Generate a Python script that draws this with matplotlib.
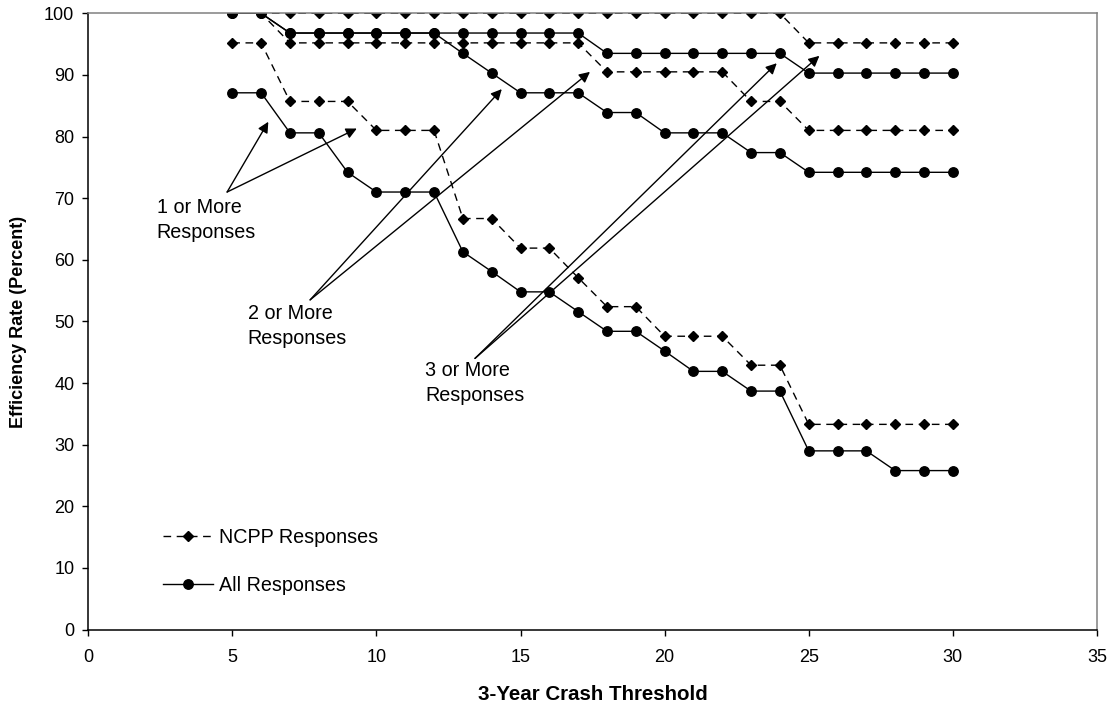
import matplotlib
matplotlib.use("Agg")
import matplotlib.pyplot as plt

plt.rcParams['font.family'] = ['Liberation Sans', 'DejaVu Sans']

# 3-year crash threshold
threshold = list(range(5, 31))

# NCPP responses (dashed, diamonds)
ncpp_1 = [95.2, 95.2, 85.7, 85.7, 85.7, 81.0, 81.0, 81.0, 66.7, 66.7, 61.9, 61.9, 57.1,
          52.4, 52.4, 47.6, 47.6, 47.6, 42.9, 42.9, 33.3, 33.3, 33.3, 33.3, 33.3, 33.3]
ncpp_2 = [100.0, 100.0, 95.2, 95.2, 95.2, 95.2, 95.2, 95.2, 95.2, 95.2, 95.2, 95.2, 95.2,
          90.5, 90.5, 90.5, 90.5, 90.5, 85.7, 85.7, 81.0, 81.0, 81.0, 81.0, 81.0, 81.0]
ncpp_3 = [100.0] * 20 + [95.2] * 6

# All responses (solid, circles)
all_1 = [87.1, 87.1, 80.6, 80.6, 74.2, 71.0, 71.0, 71.0, 61.3, 58.1, 54.8, 54.8, 51.6,
         48.4, 48.4, 45.2, 41.9, 41.9, 38.7, 38.7, 29.0, 29.0, 29.0, 25.8, 25.8, 25.8]
all_2 = [100.0, 100.0, 96.8, 96.8, 96.8, 96.8, 96.8, 96.8, 93.5, 90.3, 87.1, 87.1, 87.1,
         83.9, 83.9, 80.6, 80.6, 80.6, 77.4, 77.4, 74.2, 74.2, 74.2, 74.2, 74.2, 74.2]
all_3 = [100.0, 100.0] + [96.8] * 11 + [93.5] * 7 + [90.3] * 6

fig = plt.figure(figsize=(11.15, 7.04), dpi=100)
ax = fig.add_axes([0.0791, 0.1057, 0.9047, 0.8754])

dash_kw = dict(color='black', lw=1, dashes=(5.5, 4), marker='D', ms=4.8)
solid_kw = dict(color='black', lw=1, marker='o', ms=6.8)

ax.plot(threshold, ncpp_1, label='NCPP Responses', **dash_kw)
ax.plot(threshold, ncpp_2, **dash_kw)
ax.plot(threshold, ncpp_3, **dash_kw)
ax.plot(threshold, all_1, label='All Responses', **solid_kw)
ax.plot(threshold, all_2, **solid_kw)
ax.plot(threshold, all_3, **solid_kw)

ax.set_xlim(0, 35)
ax.set_ylim(0, 100)
ax.set_xticks(range(0, 36, 5))
ax.set_yticks(range(0, 101, 10))
ax.tick_params(axis='both', direction='out', length=4, width=1, labelsize=13)
ax.tick_params(axis='y', pad=6)
ax.tick_params(axis='x', pad=10)

for s in ['left', 'bottom']:
    ax.spines[s].set_color('black')
    ax.spines[s].set_linewidth(1.1)
for s in ['top', 'right']:
    ax.spines[s].set_color('#808080')
    ax.spines[s].set_linewidth(1.1)

ax.set_xlabel('3-Year Crash Threshold', fontsize=14.8, fontweight='bold', labelpad=14)
ax.set_ylabel('Efficiency Rate (Percent)', fontsize=13, fontweight='bold', labelpad=12)

# annotations with arrows
arrow = dict(arrowstyle='-|>', color='black', lw=1, mutation_scale=16, shrinkA=0, shrinkB=0)
notes = [
    ('1 or More\nResponses', (2.38, 70.1), (4.82, 71.0), [(6.25, 82.4), (9.32, 81.3)]),
    ('2 or More\nResponses', (5.54, 52.9), (7.70, 53.5), [(14.35, 87.7), (17.41, 90.5)]),
    ('3 or More\nResponses', (11.69, 43.6), (13.42, 44.0), [(23.89, 91.9), (25.37, 93.1)]),
]
for txt, pos, tail, heads in notes:
    ax.text(pos[0], pos[1], txt, fontsize=14.2, ha='left', va='top', linespacing=1.4)
    for h in heads:
        ax.annotate('', xy=h, xytext=tail, arrowprops=arrow)

ax.legend(loc='center left', bbox_to_anchor=(0.0742, 0.1105), frameon=False,
          fontsize=14.2, handlelength=2.55, handletextpad=0.3, labelspacing=1.5,
          borderpad=0, borderaxespad=0, numpoints=1)

fig.savefig('out.png', dpi=100)
